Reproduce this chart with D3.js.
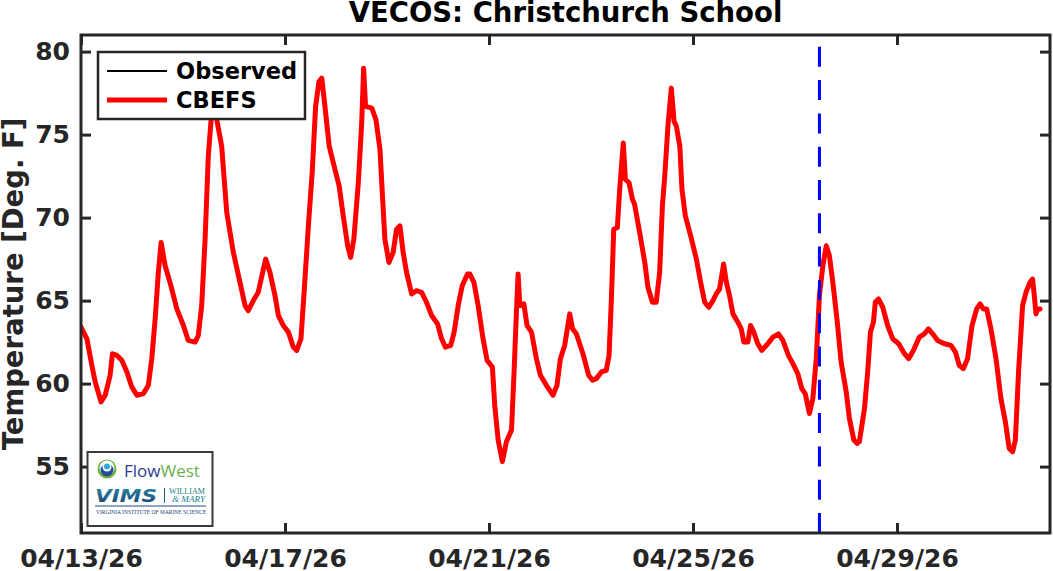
<!DOCTYPE html>
<html>
<head>
<meta charset="utf-8">
<script src="https://cdn.jsdelivr.net/npm/d3@7"></script>
<style>
  html, body { margin: 0; padding: 0; background: #fff; }
  svg { display: block; font-family: "DejaVu Sans", sans-serif; }
</style>
</head>
<body>
<svg id="chart" width="1053" height="571"></svg>
<script>
// ---------------- DATA ----------------
const titleText = "VECOS: Christchurch School";
const yLabelText = "Temperature [Deg. F]";
const startDate = "2026-04-13T00:00:00";
const endDate = "2026-05-02T00:00:00";
const forecastStart = "2026-04-27T11:30:00";
const legendLabels = ["Observed", "CBEFS"];
const xTickDates = ["2026-04-13", "2026-04-17", "2026-04-21", "2026-04-25", "2026-04-29"];
const yTickValues = [55, 60, 65, 70, 75, 80];
const yDomain = [51, 81];

// CBEFS modelled water temperature: hours since 04/13/26 00:00 and deg F
const hoursSinceStart = [
  0, 2.8, 5.1, 6.7, 9.4, 11.4, 13.7, 14.8, 16.9, 19.2, 21.6, 23.9, 26.3, 29.4, 31.7, 33.3, 34.9, 36.4, 37.7, 39.6,
  42.3, 45.1, 48.2, 50.5, 53.7, 55.2, 56.8, 58.4, 59.9, 61.9, 63.9, 66.2, 68.6, 71.7, 74.8, 77.2, 78.7, 81.1, 83.4, 85.5,
  86.9, 88.9, 91.3, 92.9, 95.2, 97.6, 99.9, 101.5, 103.5, 105.1, 107.0, 108.8, 110.4, 112.0, 113.3, 114.8, 116.8, 119.5, 121.5, 123.4,
  125.5, 126.9, 128.4, 130.5, 132.1, 133.0, 133.9, 136.8, 138.8, 140.7, 141.7, 143.0, 144.9, 146.9, 148.5, 150.1, 151.6, 153.2, 155.6, 157.9,
  160.3, 162.6, 165.0, 167.8, 169.7, 171.5, 174.0, 175.6, 177.5, 179.4, 181.9, 183.0, 184.9, 186.9, 189.2, 191.1, 193.6, 194.7, 196.3, 198.3,
  200.2, 202.6, 203.8, 204.9, 205.7, 206.5, 208.4, 209.9, 212.0, 214.3, 216.2, 219.0, 222.1, 224.0, 225.6, 227.6, 230.0, 231.3, 233.1, 236.2,
  238.9, 240.7, 242.5, 244.9, 247.2, 248.5, 249.6, 250.7, 252.4, 253.5, 255.2, 256.2, 257.9, 259.5, 260.5, 262.9, 265.3, 266.8, 268.9, 270.7,
  272.3, 273.6, 274.7, 276.2, 277.8, 279.1, 280.2, 281.8, 282.8, 284.4, 286.9, 289.6, 291.6, 293.5, 295.4, 297.4, 298.9, 300.5, 302.4, 303.7,
  305.2, 306.8, 309.1, 310.7, 311.9, 313.8, 315.1, 316.6, 318.5, 320.4, 323.2, 325.6, 328.2, 330.3, 332.9, 335.0, 337.3, 339.2, 340.8, 342.8,
  344.4, 346.0, 347.5, 349.1, 350.7, 352.2, 353.8, 355.9, 357.7, 360.1, 361.6, 363.7, 365.2, 366.3, 368.7, 370.2, 371.5, 372.9, 373.8, 375.3,
  377.3, 379.6, 382.0, 384.8, 387.5, 389.5, 391.7, 394.5, 396.9, 398.8, 400.8, 403.1, 406.3, 409.4, 411.5, 413.3, 415.2, 417.2, 419.3, 421.5,
  423.1, 424.6, 426.2, 428.2, 430.6, 432.9, 435.0, 436.8, 438.4, 439.7, 441.2, 443.1, 444.7, 446.6, 447.8, 448.6, 449.4, 450.2, 451.3
];
const tempCBEFS = [
  63.4, 62.7, 61.1, 60.1, 58.9, 59.3, 60.5, 61.8, 61.7, 61.4, 60.7, 59.8, 59.3, 59.4, 59.9, 61.5, 63.9, 66.7, 68.5, 67.1,
  65.9, 64.5, 63.5, 62.6, 62.5, 62.9, 64.7, 68.7, 73.7, 77.0, 75.9, 74.3, 70.3, 67.9, 66.1, 64.7, 64.4, 65.0, 65.5, 66.7,
  67.5, 66.7, 65.3, 64.1, 63.5, 63.1, 62.2, 62.0, 62.7, 65.7, 69.5, 72.7, 76.7, 78.2, 78.4, 76.7, 74.3, 72.9, 71.9, 70.1,
  68.3, 67.6, 68.7, 72.1, 75.7, 79.0, 76.7, 76.6, 75.9, 74.1, 71.7, 68.7, 67.3, 67.9, 69.3, 69.5, 67.9, 66.7, 65.4, 65.6,
  65.5, 64.9, 64.1, 63.6, 62.7, 62.2, 62.3, 63.1, 64.7, 65.9, 66.6, 66.6, 66.1, 64.7, 62.7, 61.4, 61.0, 58.7, 56.6, 55.3,
  56.5, 57.2, 60.7, 64.3, 66.6, 64.7, 64.8, 63.5, 63.1, 61.5, 60.5, 59.9, 59.3, 59.9, 61.5, 62.3, 64.2, 63.3, 63.0, 61.8,
  60.5, 60.2, 60.3, 60.7, 60.8, 61.7, 65.1, 69.3, 69.4, 71.7, 74.5, 72.3, 72.1, 71.1, 70.8, 69.1, 67.3, 65.8, 64.9, 64.9,
  66.7, 70.7, 72.5, 75.5, 77.8, 75.8, 75.5, 74.3, 71.7, 70.1, 68.9, 67.5, 66.1, 64.9, 64.6, 65.0, 65.4, 65.7, 67.2, 66.1,
  65.3, 64.2, 63.7, 63.3, 62.5, 62.5, 63.5, 63.1, 62.4, 62.0, 62.4, 62.8, 63.0, 62.6, 61.7, 61.2, 60.6, 59.7, 59.4, 58.2,
  59.1, 61.5, 65.3, 67.1, 68.3, 67.7, 66.1, 63.7, 61.3, 59.5, 57.9, 56.6, 56.4, 56.5, 58.5, 60.7, 63.1, 63.7, 64.9, 65.1,
  64.6, 63.5, 62.7, 62.4, 61.8, 61.5, 62.0, 62.8, 63.0, 63.3, 63.0, 62.6, 62.4, 62.3, 61.9, 61.1, 60.9, 61.5, 63.5, 64.5,
  64.8, 64.5, 64.5, 63.3, 61.5, 59.1, 57.7, 56.1, 55.9, 56.6, 60.7, 64.7, 65.5, 66.1, 66.3, 65.3, 64.2, 64.5, 64.5
];

// ---------------- LAYOUT ----------------
const W = 1053, H = 571;
const plot = { left: 81, right: 1050, top: 35, bottom: 533 };
const axisColor = "#262626";

const svg = d3.select("#chart");
svg.append("rect").attr("width", W).attr("height", H).attr("fill", "#fff");

const t0 = new Date(startDate);
const x = d3.scaleTime().domain([t0, new Date(endDate)]).range([plot.left, plot.right]);
const y = d3.scaleLinear().domain(yDomain).range([plot.bottom, plot.top]);

const series = hoursSinceStart.map((h, i) => ({ t: new Date(t0.getTime() + h * 3600e3), v: tempCBEFS[i] }));
const xTicks = xTickDates.map(s => new Date(s + "T00:00:00"));
const fmt = d3.timeFormat("%m/%d/%y");

// clip
svg.append("defs").append("clipPath").attr("id", "clip")
  .append("rect").attr("x", plot.left).attr("y", plot.top)
  .attr("width", plot.right - plot.left).attr("height", plot.bottom - plot.top);

// model line
const line = d3.line().x(d => x(d.t)).y(d => y(d.v));
svg.append("path").datum(series)
  .attr("clip-path", "url(#clip)")
  .attr("d", line)
  .attr("fill", "none").attr("stroke", "#ff0000").attr("stroke-width", 5)
  .attr("stroke-linejoin", "round").attr("stroke-linecap", "round");

// forecast start dashed line (drawn bottom to top)
const fx = x(new Date(forecastStart));
svg.append("path")
  .attr("clip-path", "url(#clip)")
  .attr("d", d3.line()([[fx, y(yDomain[0])], [fx, y(yDomain[1])]]))
  .attr("stroke", "#0000ff").attr("stroke-width", 3).attr("fill", "none")
  .attr("stroke-dasharray", "20,13.3");

// axes
function styleAxis(g) {
  g.select(".domain").remove();
  g.selectAll(".tick line").attr("stroke", axisColor).attr("stroke-width", 3);
  g.selectAll(".tick text").attr("fill", axisColor)
    .attr("font-family", "DejaVu Sans").attr("font-weight", "bold").attr("font-size", 25);
}
svg.append("g").attr("transform", `translate(0,${plot.bottom})`)
  .call(d3.axisBottom(x).tickValues(xTicks).tickFormat(fmt).tickSizeInner(-10).tickSizeOuter(0).tickPadding(16))
  .call(styleAxis);
svg.append("g").attr("transform", `translate(0,${plot.top})`)
  .call(d3.axisTop(x).tickValues(xTicks).tickFormat("").tickSizeInner(-10).tickSizeOuter(0))
  .call(styleAxis);
svg.append("g").attr("transform", `translate(${plot.left},0)`)
  .call(d3.axisLeft(y).tickValues(yTickValues).tickFormat(d3.format("d")).tickSizeInner(-10).tickSizeOuter(0).tickPadding(11))
  .call(styleAxis);
svg.append("g").attr("transform", `translate(${plot.right},0)`)
  .call(d3.axisRight(y).tickValues(yTickValues).tickFormat("").tickSizeInner(-10).tickSizeOuter(0))
  .call(styleAxis);

// frame
svg.append("rect")
  .attr("x", plot.left).attr("y", plot.top)
  .attr("width", plot.right - plot.left).attr("height", plot.bottom - plot.top)
  .attr("fill", "none").attr("stroke", axisColor).attr("stroke-width", 3);

// title
svg.append("text").attr("x", (plot.left + plot.right) / 2).attr("y", 22)
  .attr("text-anchor", "middle").attr("font-weight", "bold").attr("font-size", 27.5)
  .attr("fill", "#000").text(titleText);

// y label
svg.append("text").attr("transform", `translate(23,${(plot.top + plot.bottom) / 2}) rotate(-90)`)
  .attr("text-anchor", "middle").attr("font-weight", "bold").attr("font-size", 27.5)
  .attr("fill", axisColor).text(yLabelText);

// legend
const lg = svg.append("g");
lg.append("rect").attr("x", 98).attr("y", 52).attr("width", 207).attr("height", 67)
  .attr("fill", "#fff").attr("stroke", axisColor).attr("stroke-width", 2.5);
const legendStyles = [{ color: "#000", w: 2, yy: 71 }, { color: "#ff0000", w: 5, yy: 100 }];
legendLabels.forEach((lab, i) => {
  const s = legendStyles[i];
  lg.append("line").attr("x1", 107).attr("x2", 167).attr("y1", s.yy).attr("y2", s.yy)
    .attr("stroke", s.color).attr("stroke-width", s.w);
  lg.append("text").attr("x", 176).attr("y", s.yy + 8).attr("font-weight", "bold").attr("font-size", 22.5)
    .attr("fill", "#000").text(lab);
});

// logo box
const logo = svg.append("g");
logo.append("rect").attr("x", 87.5).attr("y", 452).attr("width", 125).attr("height", 74)
  .attr("fill", "#fff").attr("stroke", "#3a3a3a").attr("stroke-width", 2);
// FlowWest icon
logo.append("circle").attr("cx", 107).attr("cy", 469).attr("r", 9.5).attr("fill", "#6cb33f");
logo.append("circle").attr("cx", 107).attr("cy", 468).attr("r", 7.5).attr("fill", "#fff");
logo.append("circle").attr("cx", 107).attr("cy", 470).attr("r", 6.5).attr("fill", "#2b4a9b");
logo.append("circle").attr("cx", 107).attr("cy", 467).attr("r", 4.5).attr("fill", "#fff");
logo.append("circle").attr("cx", 107).attr("cy", 466.5).attr("r", 3).attr("fill", "#29a9e1");
const fw = logo.append("text").attr("x", 124).attr("y", 477).attr("font-family", "Open Sans").attr("font-size", 17);
fw.append("tspan").attr("fill", "#2e3d8f").text("Flow");
fw.append("tspan").attr("fill", "#6ab04c").text("West");
// VIMS
const grad = svg.select("defs").append("linearGradient").attr("id", "vimsGrad").attr("x1", 0).attr("x2", 0).attr("y1", 0).attr("y2", 1);
grad.append("stop").attr("offset", "0%").attr("stop-color", "#2a8fa8");
grad.append("stop").attr("offset", "100%").attr("stop-color", "#173e73");
logo.append("text").attr("x", 95).attr("y", 502).attr("font-family", "DejaVu Sans").attr("font-weight", "bold")
  .attr("font-style", "italic").attr("font-size", 18).attr("textLength", 62).attr("lengthAdjust", "spacingAndGlyphs")
  .attr("fill", "url(#vimsGrad)").text("VIMS");
logo.append("line").attr("x1", 164.5).attr("x2", 164.5).attr("y1", 488).attr("y2", 503).attr("stroke", "#1d5c85").attr("stroke-width", 1);
logo.append("text").attr("x", 169).attr("y", 494).attr("font-family", "Liberation Serif").attr("font-size", 8.5)
  .attr("fill", "#1a7f8a").attr("textLength", 36).attr("lengthAdjust", "spacingAndGlyphs").text("WILLIAM");
logo.append("text").attr("x", 172).attr("y", 502).attr("font-family", "Liberation Serif").attr("font-style", "italic").attr("font-size", 8.5)
  .attr("fill", "#1a7f8a").attr("textLength", 33).attr("lengthAdjust", "spacingAndGlyphs").text("& MARY");
logo.append("line").attr("x1", 95).attr("x2", 206).attr("y1", 506).attr("y2", 506).attr("stroke", "#1d4f80").attr("stroke-width", 1);
logo.append("text").attr("x", 96).attr("y", 514).attr("font-family", "Liberation Serif").attr("font-size", 6)
  .attr("fill", "#1d3f70").attr("textLength", 110).attr("lengthAdjust", "spacingAndGlyphs").text("VIRGINIA INSTITUTE OF MARINE SCIENCE");
</script>
</body>
</html>
